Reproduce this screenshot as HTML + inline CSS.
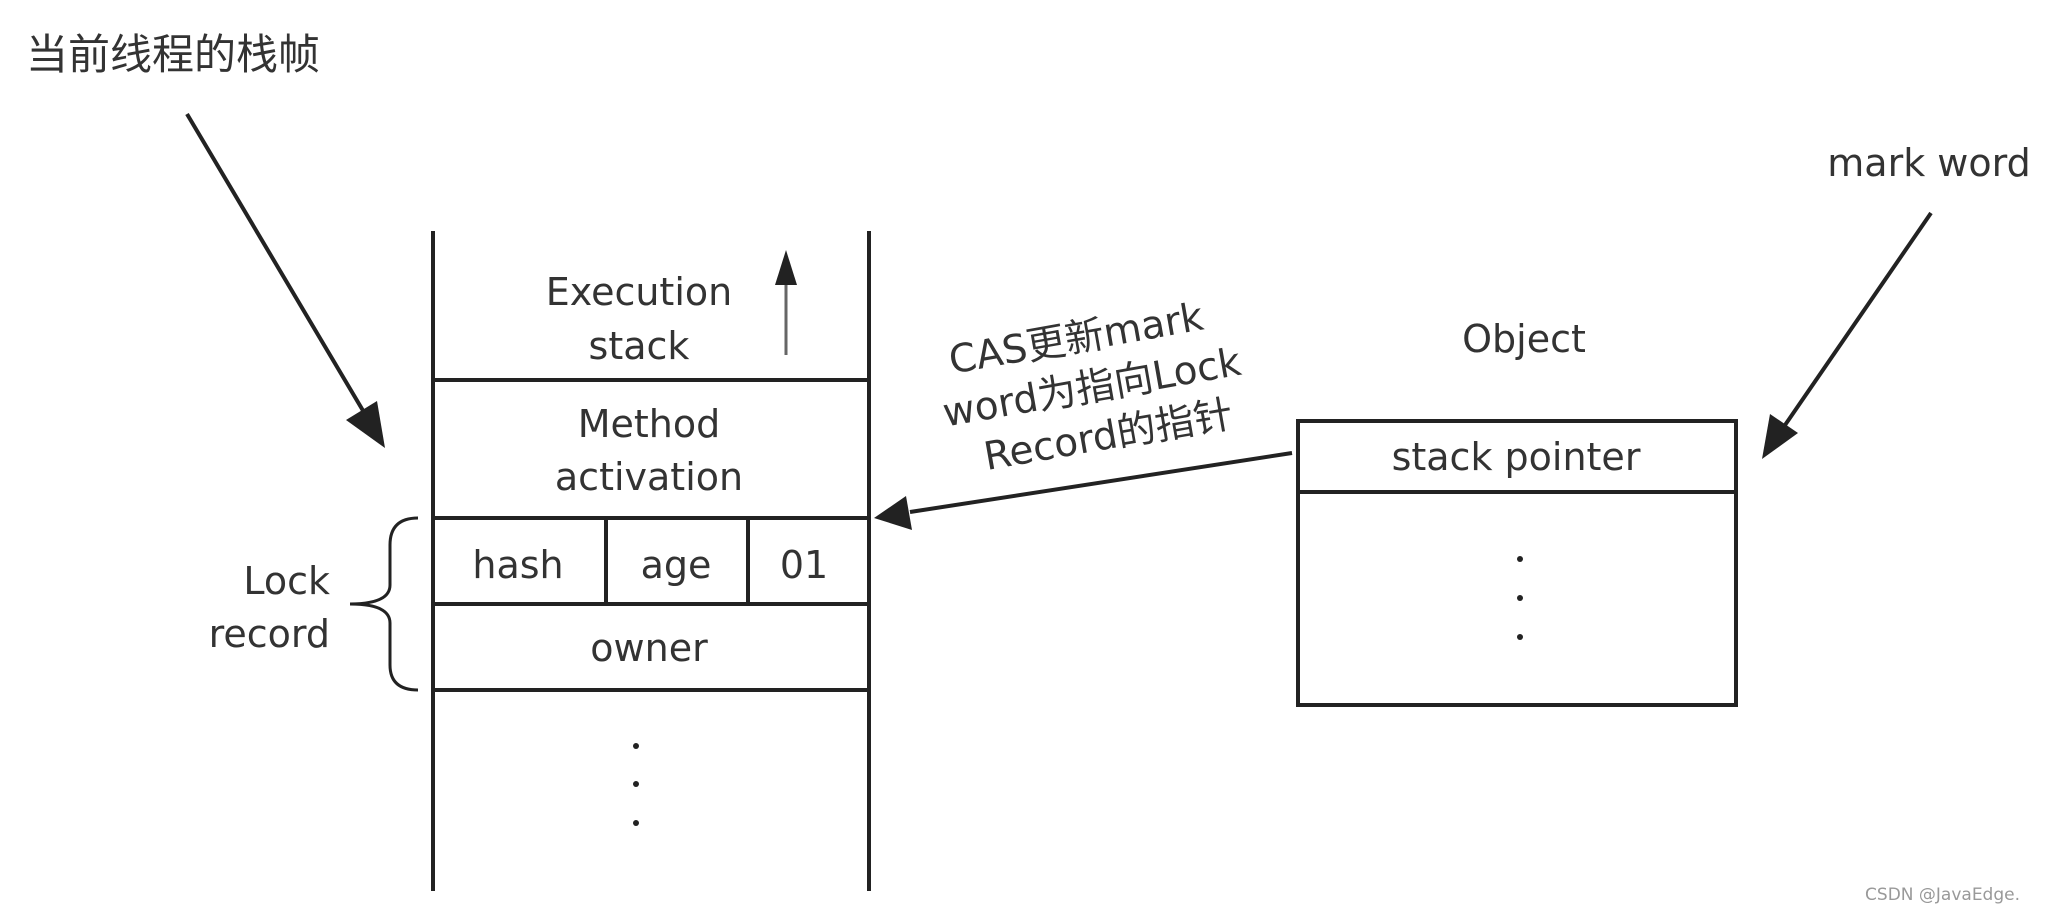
<!DOCTYPE html>
<html><head><meta charset="utf-8"><style>
html,body{margin:0;padding:0;background:#fff;}
svg{display:block;}
text{font-family:"DejaVu Sans","Noto Sans CJK SC",sans-serif;fill:#333;}
</style></head><body>
<svg width="2046" height="914" viewBox="0 0 2046 914" xmlns="http://www.w3.org/2000/svg">
<g stroke="#222" stroke-width="4" fill="none">
<line x1="433" y1="231" x2="433" y2="891"/>
<line x1="869" y1="231" x2="869" y2="891"/>
<line x1="433" y1="380" x2="869" y2="380"/>
<line x1="433" y1="518" x2="869" y2="518"/>
<line x1="433" y1="604" x2="869" y2="604"/>
<line x1="433" y1="690" x2="869" y2="690"/>
<line x1="606" y1="518" x2="606" y2="604"/>
<line x1="748" y1="518" x2="748" y2="604"/>
<rect x="1298" y="421" width="438" height="284"/>
<line x1="1298" y1="492" x2="1736" y2="492"/>
<path d="M418 518 Q390 518 390 545 L390 585 Q390 604 350 604 Q390 604 390 623 L390 665 Q390 690 418 690" stroke-width="3"/>
<line x1="187" y1="114" x2="365" y2="414" stroke-width="4"/>
<line x1="1931" y1="213" x2="1783" y2="428" stroke-width="4"/>
<line x1="1292" y1="453" x2="910" y2="512" stroke-width="4"/>
<line x1="786" y1="355" x2="786" y2="280" stroke="#666" stroke-width="3"/>
</g>
<g fill="#222">
<polygon points="385,448 346,420 377,401"/>
<polygon points="1762,459 1770,414 1798,433"/>
<polygon points="874,518 906,496 912,530"/>
<polygon points="786,250 775,285 797,285"/>
<circle cx="636" cy="746" r="3"/><circle cx="636" cy="784" r="3"/><circle cx="636" cy="823" r="3"/>
<circle cx="1520" cy="559" r="3"/><circle cx="1520" cy="598" r="3"/><circle cx="1520" cy="637" r="3"/>
</g>
<text x="26" y="69" font-size="42">当前线程的栈帧</text>
<g font-size="38" text-anchor="middle">
<text x="639" y="305">Execution</text>
<text x="639" y="359">stack</text>
<text x="649" y="437">Method</text>
<text x="649" y="490">activation</text>
<text x="518" y="578">hash</text>
<text x="676" y="578">age</text>
<text x="804" y="578">01</text>
<text x="649" y="661">owner</text>
<text x="1524" y="352">Object</text>
<text x="1516" y="470">stack pointer</text>
<text x="1929" y="176">mark word</text>
</g>
<g font-size="38" text-anchor="end">
<text x="330" y="594">Lock</text>
<text x="330" y="647">record</text>
</g>
<g font-size="39" text-anchor="middle" transform="rotate(-10 1090 389)">
<text x="1085" y="350">CAS更新mark</text>
<text x="1092" y="401">word为指向Lock</text>
<text x="1100" y="451">Record的指针</text>
</g>
<text x="2020" y="900" font-size="17" text-anchor="end" style="fill:#999">CSDN @JavaEdge.</text>
</svg>
</body></html>
